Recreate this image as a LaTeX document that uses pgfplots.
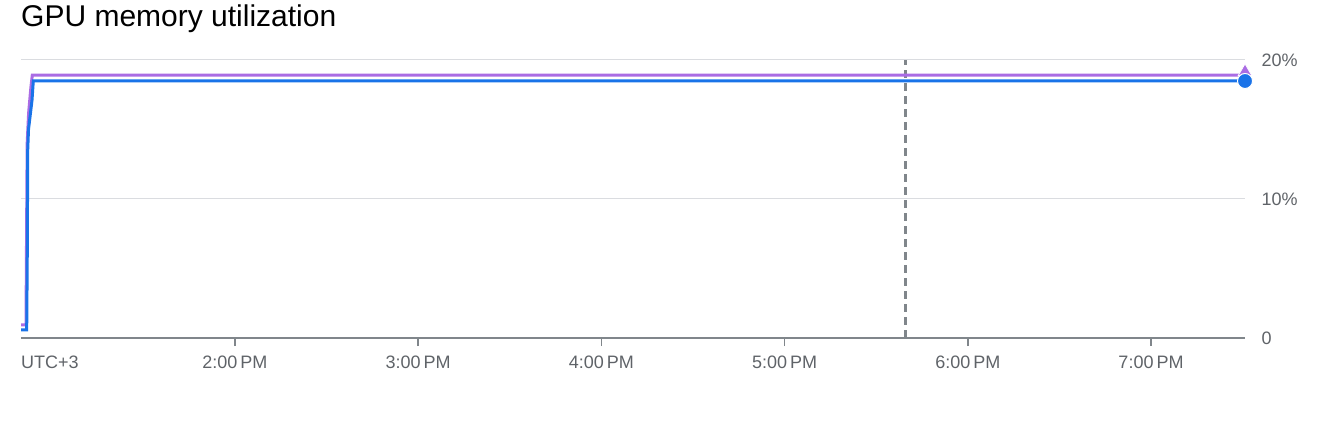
\documentclass[border=0pt]{standalone}
\usepackage{fontspec}
\setmainfont{Liberation Sans}
\usepackage{pgfplots}
\pgfplotsset{compat=1.18}
\definecolor{gblue}{RGB}{26,115,232}
\definecolor{gpurple}{RGB}{170,108,228}
\definecolor{glabel}{RGB}{95,99,104}
\definecolor{gaxis}{RGB}{128,134,139}
\definecolor{ggrid}{RGB}{218,220,224}
\begin{document}
\begin{tikzpicture}
\path[use as bounding box] (0,0) rectangle (1344bp,438bp);
\node[anchor=base west, inner sep=0pt, font=\fontsize{30bp}{34bp}\selectfont] at (21bp,411bp) {GPU memory utilization};
\begin{axis}[
  at={(21bp,100bp)}, anchor=south west,
  scale only axis, width=1224bp, height=278bp,
  xmin=12.8333, xmax=19.513, ymin=0, ymax=20,
  clip=false,
  axis x line*=bottom, axis y line*=right,
  axis line style={-},
  x axis line style={draw=gaxis, line width=2bp},
  y axis line style={draw=none},
  xtick={14,15,16,17,18,19},
  xticklabels={2:00\,PM,3:00\,PM,4:00\,PM,5:00\,PM,6:00\,PM,7:00\,PM},
  ytick={0,10,20},
  yticklabels={0,10\%,20\%},
  tick align=outside,
  xtick style={draw=gaxis, line width=1.5bp},
  ytick style={draw=none},
  major tick length=8bp,
  ymajorgrids, grid style={draw=ggrid, line width=1bp},
  /pgf/number format/assume math mode=true,
  xticklabel style={font=\fontsize{18bp}{20bp}\selectfont, text=glabel, yshift=-6bp},
  yticklabel style={font=\fontsize{18bp}{20bp}\selectfont, text=glabel, anchor=west, xshift=5bp},
]
\addplot[draw=gaxis, line width=3bp, dash pattern=on 8bp off 5bp] coordinates {(17.66,0) (17.66,20)};
\addplot[draw=gpurple, line width=3bp] coordinates {
(12.8333,0.94) (12.8606,0.94) (12.8630,6) (12.8670,14) (12.8750,16.2) (12.8870,18) (12.8950,18.92) (19.513,18.92)};
\addplot[draw=gblue, line width=3bp] coordinates {
(12.8333,0.58) (12.8644,0.58) (12.8677,6.3) (12.8699,13.5) (12.8742,15.0) (12.8824,15.9) (12.8933,17.1) (12.9004,18.49) (19.513,18.49)};
\addplot[only marks, mark=triangle*, mark size=8bp, mark options={fill=gpurple, draw=white, line width=0.8bp}] coordinates {(19.513,19.15)};
\addplot[only marks, mark=*, mark size=7.5bp, mark options={fill=gblue, draw=white, line width=1bp}] coordinates {(19.513,18.49)};
\node[anchor=base west, inner sep=0pt, text=glabel, font=\fontsize{18bp}{20bp}\selectfont] at (axis cs:12.8333,0) [yshift=-31bp] {UTC+3};
\end{axis}
\end{tikzpicture}
\end{document}
